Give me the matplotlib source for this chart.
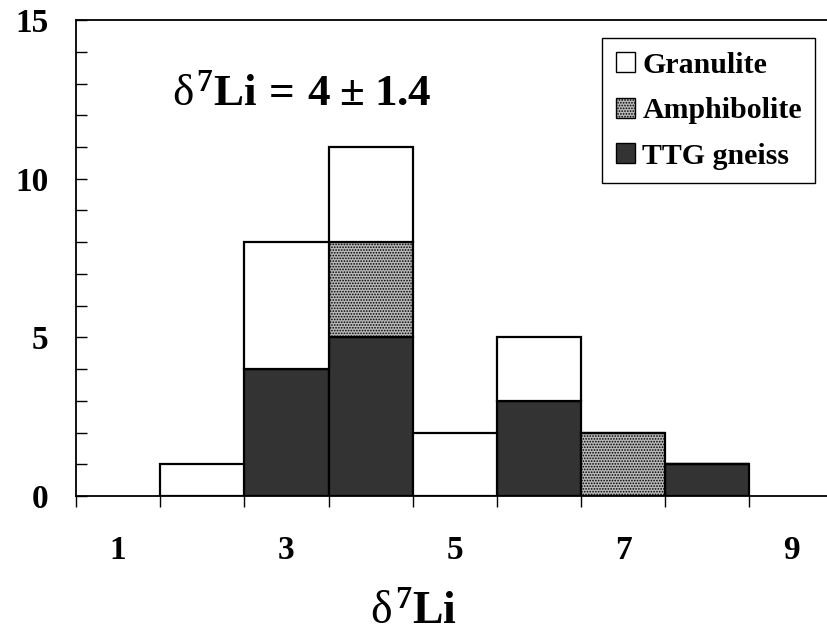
import numpy as np
import matplotlib.pyplot as plt
from matplotlib.patches import Patch

# Гистограмма δ7Li по типам пород
centers = [2, 3, 4, 5, 6, 7, 8]
ttg = [0, 4, 5, 0, 3, 0, 1]
amph = [0, 0, 3, 0, 0, 2, 0]
gran = [1, 4, 3, 2, 2, 0, 0]
x_labels = [1, 3, 5, 7, 9]
y_major = [0, 5, 10, 15]

plt.rcParams['font.family'] = 'Liberation Serif'
plt.rcParams['font.weight'] = 'bold'
plt.rcParams['mathtext.fontset'] = 'custom'
plt.rcParams['mathtext.rm'] = 'Liberation Serif:weight=normal'
plt.rcParams['mathtext.it'] = 'Liberation Serif:weight=normal'
plt.rcParams['mathtext.bf'] = 'Liberation Serif:weight=bold'
plt.rcParams['hatch.color'] = '#444444'
plt.rcParams['hatch.linewidth'] = 0.8

fig = plt.figure(figsize=(8.28, 6.44), dpi=100)
ax = fig.add_axes([0.0918, 0.2298, 0.915, 0.739])

ttg = np.array(ttg)
amph = np.array(amph)
gran = np.array(gran)
lw = 1.6
ax.bar(centers, ttg, width=1, color='#333333', edgecolor='black', lw=lw)
ax.bar(centers, amph, width=1, bottom=ttg, color='#b8b8b8', hatch='......',
       edgecolor='black', lw=lw)
ax.bar(centers, gran, width=1, bottom=ttg + amph, color='white',
       edgecolor='black', lw=lw)

ax.set_xlim(0.5, 9.5)
ax.set_ylim(0, 15)

# оси
for s in ['left', 'bottom', 'top', 'right']:
    ax.spines[s].set_linewidth(1.3)

ax.set_xticks(np.arange(0.5, 10, 1))
ax.set_xticklabels([])
ax.set_xticks(x_labels, minor=True)
ax.set_xticklabels([str(v) for v in x_labels], minor=True)
ax.tick_params(axis='x', which='major', direction='out', length=8, width=1)
ax.tick_params(axis='x', which='minor', length=0, pad=28, labelsize=24)

ax.set_yticks(y_major)
ax.set_yticks(np.arange(0, 16, 1), minor=True)
ax.tick_params(axis='y', which='both', direction='in', length=8, width=1,
               labelsize=24, pad=20)

ax.set_xlabel(r'$\delta^{\mathbf{7}}\mathbf{Li}$', fontsize=33, labelpad=8)
ax.xaxis.set_label_coords(0.446, -0.2)

ax.text(0.127, 0.845,
        r'$\delta^{\mathbf{7}}\mathbf{Li}\,\mathbf{=}\,\mathbf{4}\;\mathbf{\pm}\;\mathbf{1.4}$',
        transform=ax.transAxes, fontsize=32.5, va='center')

handles = [Patch(facecolor='white', edgecolor='black', label='Granulite'),
           Patch(facecolor='#b8b8b8', hatch='......', edgecolor='black', label='Amphibolite'),
           Patch(facecolor='#333333', edgecolor='black', label='TTG gneiss')]
leg = ax.legend(handles=handles, loc='upper right', bbox_to_anchor=(0.976, 0.962),
                fontsize=21.5, fancybox=False, framealpha=1, edgecolor='black',
                handlelength=0.65, handleheight=0.65, handletextpad=0.25,
                borderpad=0.45, labelspacing=0.62, borderaxespad=0)
leg.get_frame().set_linewidth(1)

plt.savefig('out.png', dpi=100)
